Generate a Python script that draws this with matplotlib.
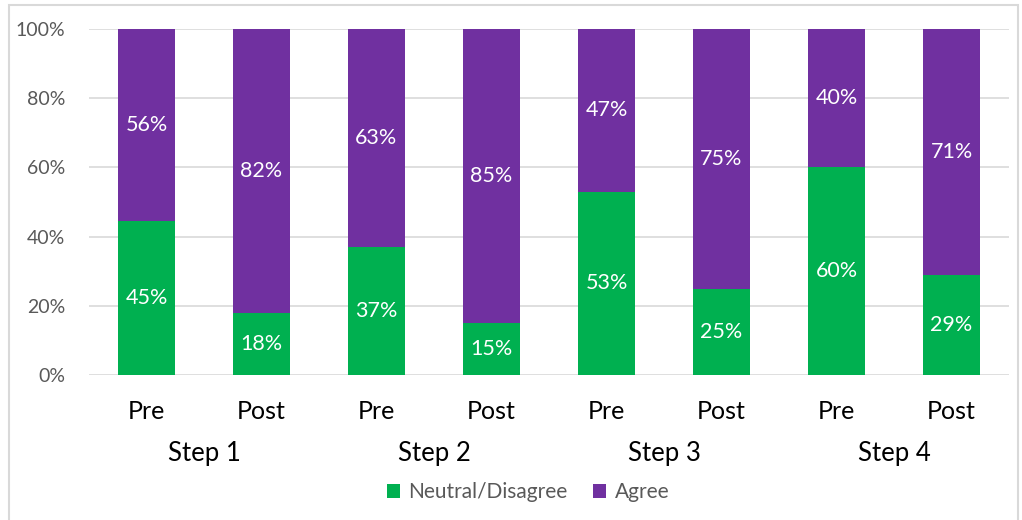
import matplotlib
matplotlib.use("Agg")
import matplotlib.pyplot as plt
from matplotlib.patches import Rectangle
import matplotlib.transforms as mtransforms

# Data
steps = ["Step 1", "Step 2", "Step 3", "Step 4"]
phases = ["Pre", "Post", "Pre", "Post", "Pre", "Post", "Pre", "Post"]
neutral_disagree = [45, 18, 37, 15, 53, 25, 60, 29]
agree = [56, 82, 63, 85, 47, 75, 40, 71]
yticks = [0, 20, 40, 60, 80, 100]

GREEN = "#00B050"
PURPLE = "#7030A0"

plt.rcParams['font.family'] = ['Lato', 'DejaVu Sans']

fig = plt.figure(figsize=(10.22, 5.2), dpi=100)
ax = fig.add_axes([89/1022, 1 - 375/520, 920/1022, 346/520])

# normalise to 100% stacked
totals = [a + b for a, b in zip(neutral_disagree, agree)]
g_share = [100 * g / t for g, t in zip(neutral_disagree, totals)]
p_share = [100 * p / t for p, t in zip(agree, totals)]
x = list(range(len(phases)))

ax.bar(x, g_share, width=0.5, color=GREEN, label="Neutral/Disagree", zorder=3)
ax.bar(x, p_share, width=0.5, bottom=g_share, color=PURPLE, label="Agree", zorder=3)

for xi, g, p, gl, pl in zip(x, g_share, p_share, neutral_disagree, agree):
    ax.text(xi, g / 2, f"{gl}%", ha="center", va="center", color="white", fontsize=15.5, zorder=4)
    ax.text(xi, g + p / 2, f"{pl}%", ha="center", va="center", color="white", fontsize=15.5, zorder=4)

ax.set_xlim(-0.5, len(phases) - 0.5)
ax.set_ylim(0, 100)
ax.set_yticks(yticks)
ax.set_yticklabels([f"{t}%" for t in yticks], color="#595959", fontsize=14)
ax.yaxis.grid(True, color="#D9D9D9", linewidth=1.2, zorder=0)
ax.set_axisbelow(True)
for s in ax.spines.values():
    s.set_visible(False)
ax.tick_params(axis="y", length=0, pad=17)
ax.tick_params(axis="x", length=0, pad=18)
ax.set_xticks(x)
ax.set_xticklabels(phases, fontsize=18, color="black")

trans = mtransforms.blended_transform_factory(ax.transData, fig.transFigure)
for i, s in enumerate(steps):
    ax.text(2 * i + 0.5, 1 - 453/520, s, transform=trans, ha="center", va="center",
            fontsize=18.5, color="black")

leg = fig.legend(loc="center", bbox_to_anchor=(528/1022, 1 - 492/520), ncol=2, frameon=False,
                 fontsize=15, handlelength=0.65, handleheight=0.65, handletextpad=0.4,
                 columnspacing=1.2)
for t in leg.get_texts():
    t.set_color("#595959")

fig.patches.append(Rectangle((9/1022, -0.01), 1009/1022, 1 - 5/520 + 0.01,
                             transform=fig.transFigure, fill=False,
                             edgecolor="#D9D9D9", linewidth=1.5))

fig.savefig("out.png", dpi=100)
